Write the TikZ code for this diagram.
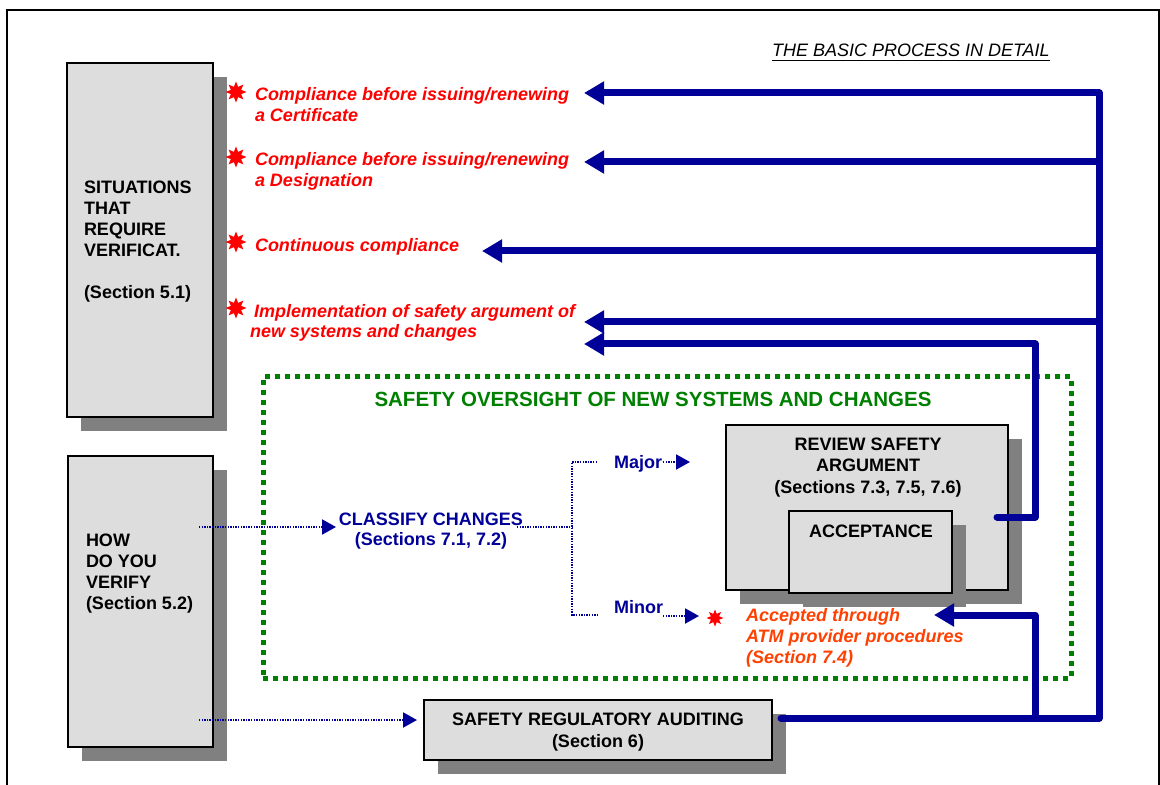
\documentclass[tikz,border=0pt]{standalone}
\usepackage{fontspec}
\setmainfont{Liberation Sans}
\usetikzlibrary{arrows.meta,shapes.geometric,shadows}
\definecolor{flowblue}{RGB}{0,0,153}
\definecolor{ovgreen}{RGB}{0,128,0}
\definecolor{boxgray}{RGB}{221,221,221}
\definecolor{shadegray}{RGB}{128,128,128}
\definecolor{notered}{RGB}{255,0,0}
\definecolor{noteorange}{RGB}{255,64,0}

\begin{document}
\begin{tikzpicture}[x=0.5pt,y=-0.5pt,
  every node/.style={inner sep=0pt, outer sep=0pt},
  box/.style={draw=black, line width=0.6pt, fill=boxgray,
    general shadow={fill=shadegray, shadow xshift=7pt, shadow yshift=-7pt}},
  boxtext/.style={font=\fontsize{9}{10.5}\selectfont\bfseries, align=left, anchor=base west},
  centertext/.style={font=\fontsize{9}{10.5}\selectfont\bfseries, align=center, anchor=base},
  note/.style={font=\fontsize{9}{10.5}\selectfont\bfseries\itshape, text=notered, align=left, anchor=base west},
  burst/.style={star, star points=8, star point ratio=1.9, fill=notered, minimum size=10.5pt},
  bus/.style={draw=flowblue, line width=3.5pt, line join=round, line cap=round},
  busarrow/.style={bus, -{Triangle[length=10pt,width=11pt]}},
  dotline/.style={draw=flowblue, line width=1pt, dash pattern=on 0.7pt off 0.6pt},
  dotarrow/.style={dotline, -{Triangle[length=7pt,width=7.5pt]}},
  bluetext/.style={text=flowblue, font=\fontsize{9}{10}\selectfont\bfseries}
]
\useasboundingbox (0,0) rectangle (1160,785);

% page frame (open at the bottom)
\draw[line width=1pt] (7,800) -- (7,10) -- (1159,10) -- (1159,800);

% heading
\node[anchor=base west, font=\fontsize{9}{10.5}\selectfont\itshape] (heading) at (772,57)
  {\underline{THE BASIC PROCESS IN DETAIL}};

% left column boxes (multi-line texts are placed by their last baseline)
\node[box, minimum width=73pt, minimum height=177pt] (sitbox) at (140,240) {};
\node[boxtext] (sittext) at (84,299)
  {SITUATIONS\\THAT\\REQUIRE\\VERIFICAT.\\[10.5pt](Section 5.1)};
\node[box, minimum width=72.5pt, minimum height=145.5pt] (howbox) at (140.5,601.5) {};
\node[boxtext] (howtext) at (86,609) {HOW\\DO YOU\\VERIFY\\(Section 5.2)};

% situations
\node[burst] (s1) at (236,92) {};
\node[burst] (s2) at (236,157) {};
\node[burst] (s3) at (236,242) {};
\node[burst] (s4) at (236,308) {};
\node[note] (cert) at (255,122) {Compliance before issuing/renewing\\a Certificate};
\node[note] (desig) at (255,187) {Compliance before issuing/renewing\\a Designation};
\node[note] (cont) at (255,252) {Continuous compliance};
\node[note] (impl) at (254,338) {Implementation of safety argument of\\[-0.5pt]\hspace*{-2pt}new systems and changes};

% oversight region
\node[draw=ovgreen, line width=2.5pt, dash pattern=on 2.5pt off 2.5pt,
      minimum width=404pt, minimum height=150.5pt] (oversight) at (667,527.5) {};
\node[anchor=base, text=ovgreen, font=\fontsize{10.25}{12}\selectfont\bfseries] (ovtitle) at (653,407)
  {SAFETY OVERSIGHT OF NEW SYSTEMS AND CHANGES};

\node[bluetext, align=center, anchor=base] (classify) at (431,545) {CLASSIFY CHANGES\\(Sections 7.1, 7.2)};
\node[bluetext, anchor=base west] (major) at (614,468) {Major};
\node[bluetext, anchor=base west] (minor) at (614,613) {Minor};

% review / acceptance
\node[box, minimum width=141pt, minimum height=82.5pt] (reviewbox) at (867,507.5) {};
\node[centertext] (reviewtext) at (868,493) {REVIEW SAFETY\\ARGUMENT\\(Sections 7.3, 7.5, 7.6)};
\node[box, minimum width=81.5pt, minimum height=41pt] (accbox) at (870.5,552) {};
\node[centertext] (acctext) at (871,537) {ACCEPTANCE};

\node[burst, minimum size=8.5pt] (s5) at (715,618) {};
\node[note, text=noteorange] (accepted) at (746,663)
  {Accepted through\\ATM provider procedures\\(Section 7.4)};

% auditing
\node[box, minimum width=174pt, minimum height=30pt] (srabox) at (598,730) {};
\node[centertext] (sratext) at (598,747) {SAFETY REGULATORY AUDITING\\[0.5pt](Section 6)};

% connector points
\coordinate (sraOut) at (781,718);
\coordinate (busBot) at (1099,718);
\coordinate (busTop) at (1099,93);
\coordinate (tipCert) at (584,93);
\coordinate (tipDes) at (584,162);
\coordinate (tipCont) at (482,251);
\coordinate (tipImpl) at (584,322);
\coordinate (tipImplB) at (584,344);
\coordinate (revOut) at (997,517);
\coordinate (revBend) at (1035,517);
\coordinate (implBend) at (1035,344);
\coordinate (accBase) at (1035,718);
\coordinate (accBend) at (1035,615);
\coordinate (tipAcc) at (934,615);

\coordinate (howOutA) at (199,527);
\coordinate (tipCls) at (336,527);
\coordinate (clsOut) at (517,527);
\coordinate (brMid) at (572,527);
\coordinate (brTop) at (572,462);
\coordinate (brBot) at (572,615);
\coordinate (brTopEnd) at (597,462);
\coordinate (brBotEnd) at (597,615);
\coordinate (majOut) at (663,462);
\coordinate (tipMaj) at (690,462);
\coordinate (minOut) at (663,616);
\coordinate (tipMin) at (699,616);
\coordinate (howOutB) at (199,720);
\coordinate (tipSra) at (417,720);

% feedback bus
\draw[busarrow] (sraOut) -- (busBot) -- (busTop) -- (tipCert);
\draw[busarrow] (busTop |- tipDes) -- (tipDes);
\draw[busarrow] (busTop |- tipCont) -- (tipCont);
\draw[busarrow] (busTop |- tipImpl) -- (tipImpl);
\draw[busarrow] (revOut) -- (revBend) -- (implBend) -- (tipImplB);
\draw[busarrow] (accBase) -- (accBend) -- (tipAcc);

% classification flow
\draw[dotarrow] (howOutA) -- (tipCls);
\draw[dotline] (clsOut) -- (brMid);
\draw[dotline] (brTopEnd) -- (brTop) -- (brBot) -- (brBotEnd);
\draw[dotarrow] (majOut) -- (tipMaj);
\draw[dotarrow] (minOut) -- (tipMin);
\draw[dotarrow] (howOutB) -- (tipSra);
\end{tikzpicture}
\end{document}
